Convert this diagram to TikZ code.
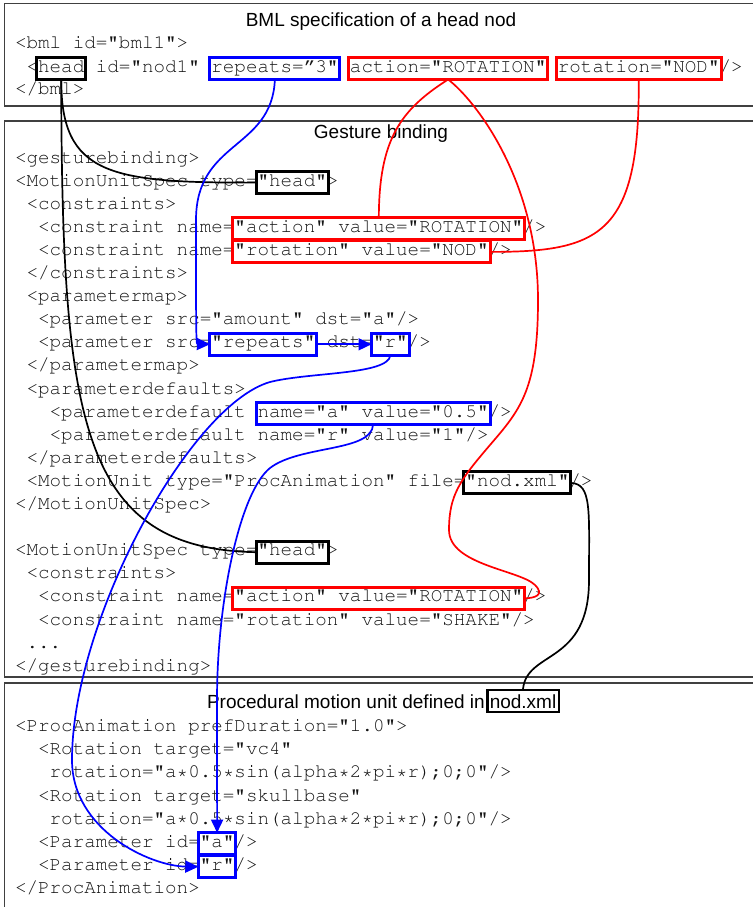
\documentclass[tikz,border=0pt]{standalone}
\usepackage[T1]{fontenc}
\usepackage{fontspec}
\setmainfont{Liberation Sans}
\usetikzlibrary{arrows.meta}

% Courier-style listing font (URW Nimbus Mono, T1 encoded)
\newcommand\codefont{\fontencoding{T1}\fontfamily{pcr}\selectfont}
% monospace cell width and left margin of the code listings
\newcommand\cw{11.55}
\newcommand\xo{15}
% highlight frame around characters #4..#5 of a code line with baseline #3
\newcommand\hlbox[5]{%
  \pgfmathsetmacro\hlx{\xo+(#4+#5)/2*\cw}%
  \pgfmathsetmacro\hlw{(#5-#4)*\cw+3}%
  \node[hl=#2, minimum width=\hlw pt] (#1) at (\hlx,#3-3.5) {};}

\begin{document}
\begin{tikzpicture}[x=1pt,y=-1pt,
  code/.style={anchor=base west, inner sep=0pt, outer sep=0pt,
    font=\codefont\fontsize{19.25}{23}\selectfont, text=black!92},
  title/.style={anchor=base, inner sep=0pt, font=\fontsize{19}{23}\selectfont},
  panel/.style={draw=black!75, line width=1.1pt},
  hl/.style={draw=#1, line width=3pt, inner sep=0pt, outer sep=0pt, minimum height=22pt},
  link/.style={line width=1.7pt},
  arr/.style={link, -{Triangle[length=13pt,width=12pt]}},
]
\useasboundingbox (0,0) rectangle (752,907);

% ---------- panels ----------
\draw[panel] (770,3.5) -- (4.5,3.5) -- (4.5,106) -- (770,106);
\draw[panel] (770,121) -- (4.5,121) -- (4.5,677) -- (770,677);
\draw[panel] (770,683) -- (4.5,683) -- (4.5,920);

% ---------- BML specification ----------
\node[title] (t1) at (381,27) {BML specification of a head nod};
\node[code] (b0) at (\xo,48.5) {<bml id="bml1">};
\node[code] (b1) at (\xo+\cw,72) {<head id="nod1" repeats=\textquotedblright3" action="ROTATION" rotation="NOD"/>};
\node[code] (b2) at (\xo,94.7) {</bml>};

% ---------- gesture binding ----------
\node[title] (t2) at (381,138) {Gesture binding};
\node[code] (g0)  at (\xo,163) {<gesturebinding>};
\node[code] (g1)  at (\xo,163+23.1) {<MotionUnitSpec type="head">};
\node[code] (g2)  at (\xo+\cw,163+2*23.1) {<constraints>};
\node[code] (g3)  at (\xo+2*\cw,163+3*23.1) {<constraint name="action" value="ROTATION"/>};
\node[code] (g4)  at (\xo+2*\cw,163+4*23.1) {<constraint name="rotation" value="NOD"/>};
\node[code] (g5)  at (\xo+\cw,163+5*23.1) {</constraints>};
\node[code] (g6)  at (\xo+\cw,163+6*23.1) {<parametermap>};
\node[code] (g7)  at (\xo+2*\cw,163+7*23.1) {<parameter src="amount" dst="a"/>};
\node[code] (g8)  at (\xo+2*\cw,163+8*23.1) {<parameter src="repeats" dst="r"/>};
\node[code] (g9)  at (\xo+\cw,163+9*23.1) {</parametermap>};
\node[code] (g10) at (\xo+\cw,163+10*23.1) {<parameterdefaults>};
\node[code] (g11) at (\xo+3*\cw,163+11*23.1) {<parameterdefault name="a" value="0.5"/>};
\node[code] (g12) at (\xo+3*\cw,163+12*23.1) {<parameterdefault name="r" value="1"/>};
\node[code] (g13) at (\xo+\cw,163+13*23.1) {</parameterdefaults>};
\node[code] (g14) at (\xo+\cw,163+14*23.1) {<MotionUnit type="ProcAnimation" file="nod.xml"/>};
\node[code] (g15) at (\xo,163+15*23.1) {</MotionUnitSpec>};
\node[code] (g17) at (\xo,163+17*23.1) {<MotionUnitSpec type="head">};
\node[code] (g18) at (\xo+\cw,163+18*23.1) {<constraints>};
\node[code] (g19) at (\xo+2*\cw,163+19*23.1) {<constraint name="action" value="ROTATION"/>};
\node[code] (g20) at (\xo+2*\cw,163+20*23.1) {<constraint name="rotation" value="SHAKE"/>};
\node[code] (g21) at (\xo+\cw,163+21*23.1) {...};
\node[code] (g22) at (\xo,163+22*23.1) {</gesturebinding>};

% ---------- procedural motion unit ----------
\node[title, anchor=base east] (t3) at (485,708) {Procedural motion unit defined in};
\node[title, anchor=base west, draw, line width=2.5pt, inner xsep=2.5pt, inner ysep=4pt] (nodT) at (486,708) {nod.xml};
\node[code] (p0) at (\xo,731.7) {<ProcAnimation prefDuration="1.0">};
\node[code] (p1) at (\xo+2*\cw,731.7+23.1) {<Rotation target="vc4"};
\node[code] (p2) at (\xo+3*\cw,731.7+2*23.1) {rotation="a*0.5*sin(alpha*2*pi*r);0;0"/>};
\node[code] (p3) at (\xo+2*\cw,731.7+3*23.1) {<Rotation target="skullbase"};
\node[code] (p4) at (\xo+3*\cw,731.7+4*23.1) {rotation="a*0.5*sin(alpha*2*pi*r);0;0"/>};
\node[code] (p5) at (\xo+2*\cw,731.7+5*23.1) {<Parameter id="a"/>};
\node[code] (p6) at (\xo+2*\cw,731.7+6*23.1) {<Parameter id="r"/>};
\node[code] (p7) at (\xo,731.7+7*23.1) {</ProcAnimation>};

% ---------- highlight frames ----------
\hlbox{headB}{black}{72}{2}{6}
\hlbox{repB}{blue}{72}{17}{28}
\hlbox{actB}{red}{72}{29}{46}
\hlbox{rotB}{red}{72}{47}{61}
\hlbox{headGa}{black}{163+23.1}{21}{27}
\hlbox{actGa}{red}{163+3*23.1}{19}{44}
\hlbox{rotGa}{red}{163+4*23.1}{19}{41}
\hlbox{repG}{blue}{163+8*23.1}{17}{26}
\hlbox{rG}{blue}{163+8*23.1}{31}{34}
\hlbox{aDef}{blue}{163+11*23.1}{21}{41}
\hlbox{nodG}{black}{163+14*23.1}{39}{48}
\hlbox{headGb}{black}{163+17*23.1}{21}{27}
\hlbox{actGb}{red}{163+19*23.1}{19}{44}
\hlbox{aP}{blue}{731.7+5*23.1}{16}{19}
\hlbox{rP}{blue}{731.7+6*23.1}{16}{19}

% ---------- connectors ----------
% element type -> motion unit specs
\draw[link] (headB.south) .. controls (61,175) and (110,183) .. (headGa.west);
\draw[link] (headB.south) .. controls (62,420) and (80,549) .. (headGb.west);
% motion unit file -> procedural unit
\draw[link] (nodG.east) .. controls (592,484) and (589,510) .. (589,580)
  .. controls (589,665) and (527,650) .. (nodT.north);

% constraints
\draw[link,red] (actB.south) .. controls (400,110) and (379,140) .. (actGa.north);
\draw[link,red] (actB.south) .. controls (475,100) and (538,180) .. (538,300)
  .. controls (538,390) and (520,410) .. (490,445)
  .. controls (460,480) and (449,495) .. (449,530)
  .. controls (449,565) and (520,570) .. (535,585)
  .. controls (545,595) and (535,598) .. (actGb.east);
\draw[link,red] (rotB.south) .. controls (640,235) and (600,252) .. (rotGa.east);

% parameters
\draw[arr,blue] (repB.south) .. controls (272,150) and (196,140) .. (196,220)
  .. controls (196,320) and (196,344) .. (repG.west);
\draw[arr,blue] (repG.east) -- (rG.west);
\draw[arr,blue] (rG.south) .. controls (388,375) and (310,372) .. (270,382)
  .. controls (190,405) and (72,620) .. (72,760)
  .. controls (72,830) and (150,866) .. (rP.west);
\draw[arr,blue] (aDef.south) .. controls (372,452) and (300,445) .. (270,468)
  .. controls (240,492) and (217,600) .. (217,700) -- (aP.north);
\end{tikzpicture}
\end{document}
